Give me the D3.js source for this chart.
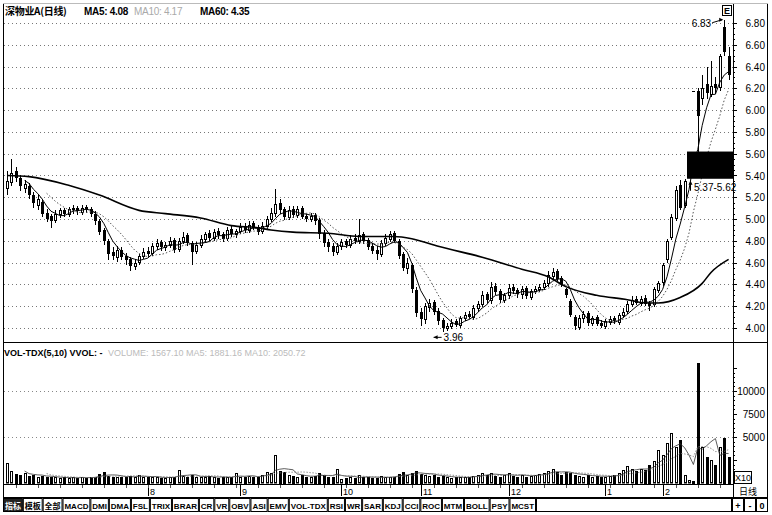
<!DOCTYPE html>
<html><head><meta charset="utf-8">
<script src="https://cdn.jsdelivr.net/npm/d3@7/dist/d3.min.js"></script>
<style>
body{margin:0;background:#fff;}
svg{display:block;font-family:"Liberation Sans",Arial,"Noto Sans CJK SC",sans-serif;}
</style></head><body>
<svg id="c" width="772" height="515"></svg>
<script>
// ---------- data ----------
const opens=[5.28,5.33,5.44,5.38,5.28,5.30,5.22,5.12,5.16,5.06,
5.03,4.98,5.04,5.08,5.04,5.08,5.10,5.06,5.11,5.09,
5.05,4.98,4.90,4.80,4.70,4.64,4.72,4.66,4.63,4.56,
4.60,4.65,4.71,4.68,4.74,4.79,4.73,4.75,4.81,4.72,
4.79,4.85,4.78,4.70,4.75,4.81,4.87,4.82,4.89,4.86,
4.82,4.91,4.85,4.88,4.94,4.89,4.96,4.93,4.88,4.93,
4.99,5.05,5.15,5.09,5.01,5.09,5.03,5.10,5.03,4.99,
5.04,4.99,4.87,4.79,4.75,4.69,4.74,4.80,4.75,4.83,
4.79,4.86,4.81,4.75,4.72,4.67,4.77,4.81,4.87,4.80,
4.68,4.54,4.58,4.35,4.15,4.07,4.18,4.24,4.16,4.07,
3.99,4.01,4.06,4.02,4.08,4.13,4.09,4.17,4.21,4.31,
4.25,4.39,4.34,4.25,4.29,4.38,4.35,4.30,4.37,4.28,
4.33,4.35,4.37,4.40,4.47,4.52,4.46,4.36,4.25,4.10,
4.00,4.08,4.14,4.04,4.10,4.05,4.01,4.05,4.09,4.05,
4.11,4.15,4.21,4.27,4.22,4.28,4.23,4.21,4.34,4.41,
4.62,4.83,5.00,5.31,5.12,5.62,6.18,6.18,6.10,6.24,
6.14,6.24,6.20,6.76,6.50];
const highs=[5.44,5.55,5.48,5.40,5.36,5.33,5.25,5.22,5.18,5.09,
5.05,5.08,5.10,5.10,5.11,5.13,5.12,5.13,5.13,5.11,
5.07,5.00,4.92,4.82,4.74,4.75,4.74,4.69,4.65,4.63,
4.68,4.73,4.74,4.78,4.82,4.81,4.79,4.84,4.83,4.83,
4.88,4.87,4.80,4.79,4.85,4.88,4.90,4.91,4.92,4.88,
4.93,4.94,4.91,4.96,4.96,4.98,4.98,4.95,4.97,5.03,
5.10,5.28,5.18,5.11,5.12,5.12,5.12,5.12,5.05,5.06,
5.06,5.01,4.90,4.82,4.78,4.78,4.82,4.82,4.85,4.86,
5.00,4.88,4.83,4.78,4.75,4.81,4.86,4.89,4.89,4.82,
4.70,4.64,4.60,4.38,4.18,4.23,4.27,4.26,4.18,4.09,
4.05,4.08,4.08,4.11,4.15,4.16,4.21,4.25,4.34,4.33,
4.42,4.41,4.36,4.32,4.40,4.40,4.37,4.39,4.39,4.36,
4.39,4.40,4.44,4.52,4.55,4.54,4.48,4.37,4.27,4.12,
4.12,4.16,4.16,4.11,4.12,4.07,4.08,4.11,4.11,4.14,
4.18,4.25,4.29,4.29,4.29,4.30,4.25,4.38,4.43,4.60,
4.82,5.05,5.30,5.36,5.37,5.62,6.18,6.20,6.32,6.40,
6.45,6.30,6.52,6.83,6.58];
const lows=[5.22,5.30,5.34,5.26,5.24,5.18,5.10,5.08,5.02,4.97,
4.92,4.96,5.01,5.02,5.02,5.05,5.04,5.04,5.06,5.02,
4.95,4.85,4.76,4.62,4.62,4.61,4.62,4.58,4.52,4.53,
4.58,4.63,4.65,4.66,4.72,4.71,4.71,4.73,4.69,4.70,
4.77,4.75,4.58,4.68,4.73,4.79,4.80,4.80,4.82,4.79,
4.80,4.84,4.83,4.86,4.87,4.87,4.90,4.85,4.86,4.91,
4.97,5.02,5.05,4.99,4.99,5.01,5.01,5.00,4.97,4.97,
4.95,4.82,4.74,4.70,4.66,4.67,4.72,4.73,4.73,4.77,
4.77,4.77,4.72,4.68,4.62,4.65,4.75,4.79,4.78,4.63,
4.52,4.50,4.32,4.10,4.02,4.04,4.15,4.12,4.03,3.96,
3.97,3.99,4.01,4.00,4.06,4.08,4.07,4.15,4.19,4.23,
4.22,4.30,4.23,4.23,4.27,4.31,4.28,4.27,4.27,4.26,
4.31,4.33,4.35,4.38,4.45,4.43,4.38,4.28,4.10,3.98,
3.98,4.05,4.02,4.02,4.02,4.00,3.99,4.03,4.04,4.03,
4.09,4.13,4.19,4.21,4.20,4.20,4.16,4.19,4.32,4.39,
4.60,4.81,4.98,5.08,5.10,5.62,6.18,5.62,6.05,6.10,
6.12,6.15,6.18,6.50,6.28];
const closes=[5.35,5.42,5.38,5.30,5.32,5.22,5.15,5.18,5.05,5.00,
4.98,5.05,5.08,5.05,5.09,5.10,5.07,5.10,5.09,5.05,
4.98,4.88,4.80,4.68,4.66,4.72,4.65,4.62,4.57,4.60,
4.66,4.70,4.68,4.75,4.78,4.74,4.76,4.80,4.72,4.80,
4.84,4.78,4.70,4.76,4.82,4.86,4.83,4.88,4.85,4.82,
4.90,4.86,4.89,4.93,4.90,4.95,4.92,4.88,4.94,5.00,
5.06,5.14,5.08,5.02,5.08,5.04,5.09,5.02,5.00,5.03,
4.98,4.86,4.78,4.74,4.70,4.75,4.79,4.76,4.82,4.80,
4.85,4.80,4.74,4.71,4.68,4.78,4.83,4.86,4.80,4.66,
4.55,4.60,4.36,4.14,4.08,4.20,4.23,4.15,4.06,4.00,
4.02,4.05,4.03,4.09,4.12,4.10,4.18,4.22,4.30,4.26,
4.38,4.33,4.26,4.30,4.37,4.34,4.31,4.36,4.29,4.34,
4.36,4.38,4.41,4.49,4.51,4.45,4.40,4.30,4.12,4.02,
4.09,4.13,4.05,4.09,4.04,4.02,4.06,4.08,4.06,4.12,
4.15,4.22,4.26,4.23,4.27,4.22,4.20,4.36,4.41,4.58,
4.80,5.02,5.27,5.10,5.35,5.62,6.18,5.95,6.20,6.16,
6.22,6.20,6.50,6.53,6.32];
const volumes=[2200,1300,1000,900,1100,800,900,700,800,600,
700,600,500,650,550,600,500,700,550,600,
700,1000,1200,800,700,600,650,700,800,600,
900,700,600,650,700,500,550,600,700,1400,
800,700,900,600,650,700,750,600,550,700,
600,650,1100,700,600,800,700,650,900,1200,
1100,3000,1300,1200,900,800,700,900,700,600,
800,1100,900,700,600,1500,450,500,600,500,
900,700,600,500,500,800,700,600,700,1000,
1200,900,1100,1300,1000,900,800,900,700,800,
600,500,600,700,650,600,800,900,1100,900,
1100,800,700,900,1100,800,700,900,700,800,
900,1000,1100,1300,1500,1200,900,1200,1100,900,
800,700,900,700,800,600,700,800,900,1100,
1400,1900,1500,1300,1500,1400,2000,2400,3600,3000,
4300,5400,3900,4700,900,300,250,13000,3900,2800,
2500,1950,3900,4900,2800];
// MA60 (candle index, price)
const ma60Idx=[0,5,14,21,30,36,44,51,57,60,65,73,80,88,92,98,108,117,123,127,134,141,145,148,153,158,160,164];
const ma60Val=[5.40,5.39,5.31,5.22,5.08,5.05,5.01,4.94,4.92,4.90,4.88,4.87,4.84,4.84,4.82,4.75,4.65,4.54,4.47,4.38,4.30,4.26,4.23,4.23,4.28,4.41,4.51,4.63];
const priceTicks=[4.0,4.2,4.4,4.6,4.8,5.0,5.2,5.4,5.6,5.8,6.0,6.2,6.4,6.6,6.8];
const volTicks=[5000,7500,10000];
const monthIdx=[32,53,76,94,114,136,149];
const monthLabels=["8","9","10","11","12","1","2"];
const tabLabels=["指标","模板","全部","MACD","DMI","DMA","FSL","TRIX","BRAR","CR","VR","OBV","ASI","EMV","VOL-TDX","RSI","WR","SAR","KDJ","CCI","ROC","MTM","BOLL","PSY","MCST"];
const gapLow=5.37, gapHigh=5.62, gapStart=154;
const maxIdx=163, maxVal=6.83, minIdx=99, minVal=3.96;

// ---------- layout ----------
const svg=d3.select("#c");
const N=closes.length;
const AX=733, mainTop=3, mainBot=342, volBot=484;
const x=d3.scaleLinear().domain([0,N-1]).range([7,728.6]);
const y=d3.scaleLinear().domain([4.0,6.8]).range([328,23]);
const yv=d3.scaleLinear().domain([0,10000]).range([483,391]);
const data=closes.map((c,i)=>({i,o:opens[i],h:highs[i],l:lows[i],c,v:volumes[i]}));

svg.append("defs").append("clipPath").attr("id","mc").append("rect").attr("x",4).attr("y",mainTop+1).attr("width",AX-4).attr("height",mainBot-mainTop-1);
svg.select("defs").append("clipPath").attr("id","vc").append("rect").attr("x",4).attr("y",mainBot+1).attr("width",AX-4).attr("height",volBot-mainBot-1);

// frame lines
const fr=svg.append("g").attr("stroke","#000").attr("stroke-width",1).attr("fill","none");
fr.append("line").attr("x1",3.5).attr("x2",3.5).attr("y1",mainTop).attr("y2",512);
fr.append("line").attr("x1",AX+0.5).attr("x2",AX+0.5).attr("y1",mainTop).attr("y2",497);
fr.append("line").attr("x1",767.5).attr("x2",767.5).attr("y1",mainTop).attr("y2",497);
fr.append("line").attr("x1",3).attr("x2",768).attr("y1",mainBot+0.5).attr("y2",mainBot+0.5);
fr.append("line").attr("x1",3).attr("x2",AX).attr("y1",volBot+0.5).attr("y2",volBot+0.5);
fr.append("line").attr("x1",3).attr("x2",768).attr("y1",497.5).attr("y2",497.5);
fr.append("line").attr("x1",3).attr("x2",768).attr("y1",mainTop+0.5).attr("y2",mainTop+0.5).attr("stroke","#bbb");

// price grid
svg.append("g").selectAll("line").data(priceTicks).join("line")
  .attr("x1",4).attr("x2",AX).attr("y1",d=>Math.round(y(d))+0.5).attr("y2",d=>Math.round(y(d))+0.5)
  .attr("stroke","#777").attr("stroke-dasharray","1,3");
// volume grid
svg.append("g").selectAll("line").data([5000,10000]).join("line")
  .attr("x1",4).attr("x2",AX).attr("y1",d=>Math.round(yv(d))+0.5).attr("y2",d=>Math.round(yv(d))+0.5)
  .attr("stroke","#888").attr("stroke-dasharray","1,3");

// right axis ticks
const minorP=d3.range(4.0,6.81,0.05);
svg.append("g").selectAll("line").data(minorP).join("line")
  .attr("x1",AX).attr("x2",d=>AX+(Math.abs(d*5-Math.round(d*5))<0.01?4:2))
  .attr("y1",d=>Math.round(y(d))+0.5).attr("y2",d=>Math.round(y(d))+0.5).attr("stroke","#000");
svg.append("g").selectAll("text").data(priceTicks).join("text")
  .attr("x",765).attr("y",d=>y(d)+4).attr("text-anchor","end")
  .attr("font-size",10).attr("fill","#000").text(d=>d3.format(".2f")(d));
svg.append("g").selectAll("line").data(d3.range(0,12501,500)).join("line")
  .attr("x1",AX).attr("x2",d=>AX+(d%2500===0?4:2))
  .attr("y1",d=>Math.round(yv(d))+0.5).attr("y2",d=>Math.round(yv(d))+0.5).attr("stroke","#000")
  .attr("display",d=>yv(d)<mainBot+3?"none":null);
svg.append("g").selectAll("text").data(volTicks).join("text")
  .attr("x",765).attr("y",d=>yv(d)+4).attr("text-anchor","end")
  .attr("font-size",10).text(d=>d);

// ---------- candles ----------
const cg=svg.append("g").attr("clip-path","url(#mc)");
data.forEach(d=>{
  const cx=Math.round(x(d.i));
  const up=d.c>d.o, flat=d.c===d.o;
  const top=Math.round(y(Math.max(d.o,d.c))), bot=Math.round(y(Math.min(d.o,d.c)));
  const yh=Math.round(y(d.h)), yl=Math.round(y(d.l));
  if(yh<top) cg.append("line").attr("x1",cx+0.5).attr("x2",cx+0.5).attr("y1",yh).attr("y2",top).attr("stroke","#000");
  if(yl>bot) cg.append("line").attr("x1",cx+0.5).attr("x2",cx+0.5).attr("y1",bot).attr("y2",yl).attr("stroke","#000");
  if(flat||bot-top<2){
    cg.append("rect").attr("x",cx-1).attr("y",top).attr("width",3).attr("height",Math.max(1,bot-top)).attr("fill","#000");
  } else if(up){
    cg.append("rect").attr("x",cx-0.5).attr("y",top+0.5).attr("width",2).attr("height",bot-top-1)
      .attr("fill","#fff").attr("stroke","#000");
  } else {
    cg.append("rect").attr("x",cx-1).attr("y",top).attr("width",3).attr("height",bot-top).attr("fill","#000");
  }
});

// moving averages
function ma(arr,n){return arr.map((v,i)=>i<n-1?null:d3.mean(arr.slice(i-n+1,i+1)));}
const ma5=ma(closes,5), ma10=ma(closes,10);
const lineP=d3.line().defined(d=>d[1]!=null).x(d=>x(d[0])).y(d=>y(d[1]));
const lg=svg.append("g").attr("clip-path","url(#mc)").attr("fill","none");
lg.append("path").attr("d",lineP(ma10.map((v,i)=>[i,v]))).attr("stroke","#555").attr("stroke-width",1).attr("stroke-dasharray","1.5,2");
lg.append("path").attr("d",lineP(ma5.map((v,i)=>[i,v]))).attr("stroke","#000").attr("stroke-width",1);
lg.append("path").attr("d",d3.line().curve(d3.curveMonotoneX).x(d=>x(d[0])).y(d=>y(d[1]))(ma60Idx.map((k,j)=>[k,ma60Val[j]])))
  .attr("stroke","#000").attr("stroke-width",1.6);

// gap box
const gx=Math.round((x(gapStart)+x(gapStart+1))/2);
svg.append("rect").attr("x",gx).attr("y",y(gapHigh)).attr("width",AX-gx).attr("height",y(gapLow)-y(gapHigh)).attr("fill","#000");
svg.append("line").attr("x1",gx+3.5).attr("x2",gx+3.5).attr("y1",y(gapLow)+12).attr("y2",y(gapLow)+3).attr("stroke","#000");
svg.append("path").attr("d",`M${gx+1.5},${y(gapLow)+6}L${gx+3.5},${y(gapLow)+2}L${gx+5.5},${y(gapLow)+6}Z`).attr("fill","#000");
svg.append("text").attr("x",gx+7).attr("y",y(gapLow)+12).attr("font-size",10).text(gapLow.toFixed(2)+"-"+gapHigh.toFixed(2));

// max / min annotations
const mxX=x(maxIdx), mxY=y(maxVal);
svg.append("text").attr("x",mxX-13).attr("y",mxY+7).attr("text-anchor","end").attr("font-size",10).text(maxVal.toFixed(2));
svg.append("line").attr("x1",mxX-12).attr("x2",mxX-2).attr("y1",mxY+3).attr("y2",mxY).attr("stroke","#000");
svg.append("path").attr("d",`M${mxX-1},${mxY}l-4,-2l0,4Z`).attr("fill","#000");
const mnX=x(minIdx)-9, mnY=y(minVal)+5;
svg.append("line").attr("x1",mnX).attr("x2",mnX+8).attr("y1",mnY).attr("y2",mnY).attr("stroke","#000");
svg.append("path").attr("d",`M${mnX},${mnY}l4,-2l0,4Z`).attr("fill","#000");
svg.append("text").attr("x",mnX+10).attr("y",mnY+4).attr("font-size",10).text(minVal.toFixed(2));

// corner label
svg.append("rect").attr("x",722.5).attr("y",5.5).attr("width",9).attr("height",10).attr("fill","#fff").attr("stroke","#000");
svg.append("text").attr("x",727).attr("y",14).attr("text-anchor","middle").attr("font-size",9).attr("font-weight","bold").text("E");

// headers
const h1=svg.append("text").attr("y",15).attr("font-size",10).attr("letter-spacing",-0.3);
h1.append("tspan").attr("x",5).attr("font-family","Noto Sans CJK SC").attr("font-weight","bold").text("深物业A(日线)");
h1.append("tspan").attr("x",84).attr("font-weight","bold").text("MA5: 4.08");
h1.append("tspan").attr("x",134).attr("fill","#aaa").text("MA10: 4.17");
h1.append("tspan").attr("x",200).attr("font-weight","bold").text("MA60: 4.35");
const h2=svg.append("text").attr("y",356).attr("font-size",9);
h2.append("tspan").attr("x",4).attr("font-weight","bold").text("VOL-TDX(5,10) VVOL: -");
h2.append("tspan").attr("x",108).attr("fill","#bbb").text("VOLUME: 1567.10  MA5: 1881.16  MA10: 2050.72");

// ---------- volume ----------
const vg=svg.append("g").attr("clip-path","url(#vc)");
data.forEach(d=>{
  const cx=Math.round(x(d.i));
  const t=Math.round(yv(d.v)), b=483;
  if(d.c>=d.o && b-t>2){
    vg.append("rect").attr("x",cx-0.5).attr("y",t+0.5).attr("width",2).attr("height",b-t-0.5).attr("fill","#fff").attr("stroke","#000");
  } else {
    vg.append("rect").attr("x",cx-1).attr("y",t).attr("width",3).attr("height",Math.max(1,b-t+1)).attr("fill","#000");
  }
});
const vm5=ma(volumes,5), vm10=ma(volumes,10);
const lineV=d3.line().defined(d=>d[1]!=null).x(d=>x(d[0])).y(d=>yv(d[1]));
vg.append("path").attr("d",lineV(vm5.map((v,i)=>[i,v]))).attr("fill","none").attr("stroke","#333").attr("stroke-width",0.8);
vg.append("path").attr("d",lineV(vm10.map((v,i)=>[i,v]))).attr("fill","none").attr("stroke","#777").attr("stroke-width",0.8).attr("stroke-dasharray","1.5,1.5");

// X10 box
svg.append("rect").attr("x",734.5).attr("y",471.5).attr("width",17).attr("height",12).attr("fill","#fff").attr("stroke","#000");
svg.append("text").attr("x",743).attr("y",481).attr("text-anchor","middle").attr("font-size",9).text("X10");

// ---------- date axis ----------
svg.append("g").selectAll("line").data(monthIdx).join("line")
  .attr("x1",d=>Math.round(x(d))+0.5).attr("x2",d=>Math.round(x(d))+0.5).attr("y1",485).attr("y2",496).attr("stroke","#000");
svg.append("g").selectAll("line").data(d3.range(2,N,5)).join("line")
  .attr("x1",d=>Math.round(x(d))+0.5).attr("x2",d=>Math.round(x(d))+0.5).attr("y1",485).attr("y2",488).attr("stroke","#555");
svg.append("g").selectAll("text").data(monthIdx).join("text")
  .attr("x",d=>Math.round(x(d))+2).attr("y",495).attr("font-size",9).text((d,k)=>monthLabels[k]);
svg.append("text").attr("x",739).attr("y",495).attr("font-size",9).attr("font-family","Noto Sans CJK SC").text("日线");

// ---------- tabs ----------
const tg=svg.append("g");
const tmp=tg.append("text").attr("font-size",8).attr("font-weight","bold");
const widths=tabLabels.map(t=>{tmp.text(t);return tmp.node().getComputedTextLength();});
tmp.remove();
const tot=d3.sum(widths), span=536-3, pad=(span-tot)/tabLabels.length;
let tx=3;
tabLabels.forEach((t,k)=>{
  const w=widths[k]+pad;
  tg.append("rect").attr("x",tx+0.5).attr("y",498.5).attr("width",w-1).attr("height",13)
    .attr("fill",k===0?"#222":"#fff").attr("stroke","#000");
  tg.append("text").attr("x",tx+w/2).attr("y",508.5).attr("text-anchor","middle").attr("font-size",8)
    .attr("font-weight","bold").attr("fill",k===0?"#fff":"#000")
    .attr("font-family",/[\u4e00-\u9fff]/.test(t)?"Noto Sans CJK SC":null).text(t);
  tx+=w;
});
tg.append("rect").attr("x",tx+0.5).attr("y",498.5).attr("width",731-tx).attr("height",13).attr("fill","#fff").attr("stroke","#000");
["+","-","0"].forEach((s,k)=>{
  const bx=732+k*12;
  tg.append("rect").attr("x",bx+0.5).attr("y",498.5).attr("width",11).attr("height",13).attr("fill","#fff").attr("stroke","#000");
  tg.append("text").attr("x",bx+6).attr("y",509).attr("text-anchor","middle").attr("font-size",9).attr("font-weight","bold").text(s);
});
</script>
</body></html>
